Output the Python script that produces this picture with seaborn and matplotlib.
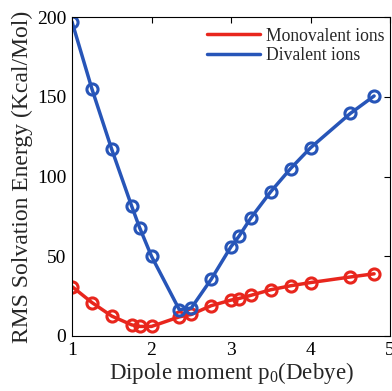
import matplotlib
matplotlib.use("Agg")
import matplotlib.pyplot as plt
import seaborn as sns
import pandas as pd
from matplotlib.lines import Line2D

dipole = [1.0, 1.25, 1.5, 1.75, 1.85, 2.0, 2.35, 2.5, 2.75, 3.0, 3.1, 3.25, 3.5, 3.75, 4.0, 4.5, 4.8]
monovalent = [31, 21, 12.5, 7, 6, 6, 12, 13.5, 19, 22.5, 23.5, 25.5, 29, 31.5, 33.5, 37, 39]
divalent = [197, 155, 117, 81.5, 68, 50, 16.5, 17.5, 35.5, 56, 62.5, 74, 90.5, 105, 118, 139.5, 150.5]
series_names = ["Monovalent ions", "Divalent ions"]
colors = ["#e8261d", "#2755b8"]

df_mono = pd.DataFrame({"x": dipole, "y": monovalent})
df_di = pd.DataFrame({"x": dipole, "y": divalent})

sns.set_style("white")
plt.rcParams["font.family"] = ["Liberation Serif", "DejaVu Serif"]
plt.rcParams["mathtext.fontset"] = "custom"
plt.rcParams["mathtext.rm"] = "Liberation Serif"
plt.rcParams["mathtext.it"] = "Liberation Serif:italic"

fig = plt.figure(figsize=(3.92, 3.91), dpi=100)
ax = fig.add_axes([72/392, 1 - 336/391, (390-72)/392, (336-17)/391])

for df, c in zip([df_mono, df_di], colors):
    sns.lineplot(data=df, x="x", y="y", ax=ax, color=c, lw=2.5, marker="o",
                 markersize=8, markerfacecolor="none", markeredgecolor=c,
                 markeredgewidth=2.2, legend=False)

ax.set_xlim(1, 5)
ax.set_ylim(0, 200)
ax.set_xticks([1, 2, 3, 4, 5])
ax.set_yticks([0, 50, 100, 150, 200])
ax.tick_params(direction="in", top=True, right=True, length=4, width=0.8,
               labelsize=14, colors="black", pad=4)
for s in ax.spines.values():
    s.set_color("black")
    s.set_linewidth(0.8)
ax.set_xlabel("Dipole moment p$_0$(Debye)", fontsize=16.5, labelpad=1)
ax.set_ylabel("RMS Solvation Energy (Kcal/Mol)", fontsize=17, labelpad=3)

handles = [Line2D([0], [0], color=c, lw=2.5) for c in colors]
ax.legend(handles, series_names, loc="upper right", bbox_to_anchor=(1.015, 1.0),
          frameon=False, fontsize=12.7,
          handlelength=3.0, handletextpad=0.3, labelspacing=0.15,
          borderaxespad=0.3, borderpad=0.3)

fig.savefig("out.png", dpi=100)
